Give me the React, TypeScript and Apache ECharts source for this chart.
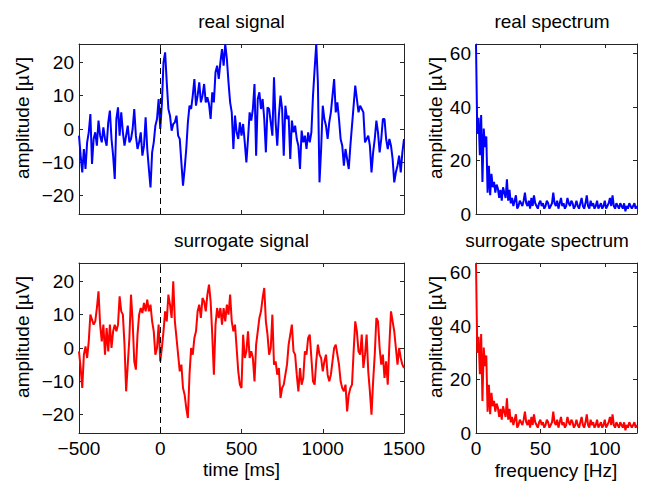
import React, { useEffect, useRef } from "react";
import * as echarts from "echarts";

// ---- data ----
const timeStartMs = -500;
const timeStepMs = 10;
const realSignal = [
  -2, -8, -13, -6, -12, -4, -1, 4.5, -10.5, -3,
  -1, -5, 2.5, -2, -4, 0.5, -3, -5, 2, 5.5,
  -3, -8, -15, 3, 6.5, -2, 5, -1, -5, -2,
  1, -4, -3, 0, 6, -2, -6, -4, -1, -8,
  -5, 3.5, -6, -12, -17.5, -7, -4, 1, 3, 9,
  0, 7.5, 20, 23, 14, 6, 4, -0.5, 1.5, 2,
  4, -2, -3, -10, -17, -12, -6, 2, 7, 6,
  10, 15, 7, 10, 14, 8, 10, 13.5, 8, 9.5,
  7.5, 3, 11, 8, 17, 19, 15, 20, 24, 19,
  25.5, 21, 14, 8, 5, -6, 4, -1, -3, 2,
  -2, 1.5, -4, -10, -3, 5, 2.5, 6, 13.5, -8,
  9, 11, 6, 9, 3, -7, 6.5, 6, 2, -2,
  15.5, 2, -5, 4, 10, 6, -8, 7, 3, 4,
  -9, 2.5, -1, 1, -3, -5, -12, -0.5, -4, -2,
  -6, -1, -4, -1, 10, 18, 25.5, 14, -16, -6,
  7, 3, 1, -3, 2, 5, 10, 15, 5, 8,
  3, -3, -5, -11, -6, -9, -12, -5, 1, 7,
  13, 9, 5, 7, 6, 5, -4, -3, -2, -5,
  -13, -7, -3, 2.5, -1, -7, -3, 3, 3, -3,
  -6, -3, -5, -9, -16, -13, -11, -8, -13, -7,
  -3,
];
const surrogateSignal = [
  -1, -6, -12, -2, 0.5, -3, 2, 10, 8.5, 7,
  8, 12, 17, 7, 2, 7, -2, 6, -1, 7,
  0, 5, 7, 5, 7, 15.5, 11, 10, 1, -13,
  -5, 3, 16, 8, -4, -6.5, 4, 10, 12, 10.5,
  13.5, 11, 14.5, 11, 13, 8, 5, -2, 0, 7,
  -4, 0, 5, 11, 8, 16, 13, 9, 20, 8,
  3, -2, -7, -5, -12, -14, -18, -21, -8, 0,
  -2, 3, 5, 11, 13, 9, 15, 14, 11, 16,
  19, 14, 4, -8, 7, 12, 9, 12, 7, 12,
  8, 13, 10, 16, 8, 5, 7, 0, -7, -11,
  -12, 4, -3, -1, 5, -3, -1, -3, -10, 1,
  5, 9, 11, 15, 18, 8, 4, -2, 0, 10,
  -5, -4, -8, -6, -15, -12, -11, -8, -5, 1,
  4, 7, -1, -2, -8, -13, -6, -11, -9, -1,
  -2, 3, 4, -3, -10, -11, -4, 1, -2, -3,
  -7, -4, -2, -8, -10, -8, -4, 0, 1, -2,
  -5, -10, -12, -13, -11, -19, -14, -12, -11, -1,
  8, 5, -1, -2, 4, -6, -2, 4, -7, -13,
  -20, -10, -2, 9, 8, 0, -5, -2, -9, -4,
  -11, 1, 11, 8, 5, 0, -5, 0, -3, -5,
  -6,
];
const freqStepHz = 1;
const realSpectrum = [
  63.5, 30, 36, 22, 37, 12, 32, 25, 29, 8,
  18, 7, 15, 10, 12, 8, 11, 9.5, 6, 9,
  5, 10, 8, 6, 13, 5, 9, 4, 6, 3,
  5, 7, 2, 3, 5, 4, 3, 5, 8, 4,
  3, 5, 2, 6, 3, 7, 4, 3, 2, 4,
  5, 3, 4, 2, 3, 5, 4, 2, 3, 4,
  8, 4, 3, 5, 2, 4, 6, 3, 4, 2,
  3, 6, 4, 3, 5, 4, 2, 3, 5, 3,
  2, 4, 6, 3, 2, 4, 7, 3, 2, 5,
  3, 4, 2, 3, 5, 2, 3, 4, 2, 3,
  5, 2, 3, 4, 6, 3, 7, 3, 2, 4,
  3, 2, 4, 3, 2, 4, 1, 3, 2, 4,
  3, 2, 3, 4, 2, 3,
];
// a phase-randomised surrogate keeps the amplitude spectrum
const surrogateSpectrum = realSpectrum;

const timeTicks = [-500, 0, 500, 1000, 1500];
const signalTicks = [-20, -10, 0, 10, 20];
const freqTicks = [0, 50, 100];
const spectrumTicks = [0, 20, 40, 60];

const titles = ["real signal", "real spectrum", "surrogate signal", "surrogate spectrum"];
const yName = "amplitude [\u00b5V]";
const timeName = "time [ms]";
const freqName = "frequency [Hz]";

// ---- styles ----
const FONT = "'Liberation Sans', Arial, Helvetica, sans-serif";
const FS = 19;
const AXIS_COLOR = "#262626";

const grids = [
  { left: 79, top: 44, width: 325, height: 170 },
  { left: 476, top: 44, width: 161, height: 170 },
  { left: 79, top: 263, width: 325, height: 170 },
  { left: 476, top: 263, width: 161, height: 170 },
];

const fmt = (v: number) => (v < 0 ? "\u2212" + Math.abs(v) : String(v));

function axis(kind: "x" | "y", gridIndex: number, position: string, min: number, max: number, ticks: number[], labels: boolean) {
  return {
    type: "value",
    gridIndex,
    position,
    min,
    max,
    axisLine: { show: true, onZero: false, lineStyle: { color: AXIS_COLOR, width: 1 } },
    axisTick: { show: true, inside: true, length: 4, customValues: ticks, lineStyle: { color: AXIS_COLOR, width: 1 } },
    axisLabel: {
      show: labels,
      customValues: ticks,
      margin: kind === "x" ? 6 : 5,
      color: "#000",
      fontSize: FS,
      fontFamily: FONT,
      formatter: fmt,
    },
    splitLine: { show: false },
  };
}

function text(t: string, x: number, y: number, rotate = false) {
  return {
    type: "text",
    x,
    y,
    rotation: rotate ? Math.PI / 2 : 0,
    style: {
      text: t,
      fontSize: FS,
      fontFamily: FONT,
      fill: "#000",
      align: "center",
      verticalAlign: "middle",
      textAlign: "center",
      textVerticalAlign: "middle",
    },
  };
}

export default function App() {
  const ref = useRef<HTMLDivElement>(null);
  useEffect(() => {
    if (!ref.current) return;
    const chart = echarts.init(ref.current, undefined, { renderer: "svg" });

    const timeData = (vals: number[]) => vals.map((v, i) => [timeStartMs + i * timeStepMs, v]);
    const freqData = (vals: number[]) => vals.map((v, i) => [i * freqStepHz, v]);

    const xAxes: any[] = [];
    const yAxes: any[] = [];
    grids.forEach((_, g) => {
      const isSignal = g % 2 === 0;
      const isBottom = g >= 2;
      const [xmin, xmax, xt] = isSignal ? [-500, 1500, timeTicks] : [0, 125, freqTicks];
      const [ymin, ymax, yt] = isSignal ? [-25.5, 25.5, signalTicks] : [0, 63.6, spectrumTicks];
      xAxes.push(axis("x", g, "bottom", xmin as number, xmax as number, xt as number[], isBottom));
      xAxes.push(axis("x", g, "top", xmin as number, xmax as number, xt as number[], false));
      yAxes.push(axis("y", g, "left", ymin as number, ymax as number, yt as number[], true));
      yAxes.push(axis("y", g, "right", ymin as number, ymax as number, yt as number[], false));
    });

    const dashed = {
      silent: true,
      symbol: ["none", "none"],
      label: { show: false },
      lineStyle: { type: [6, 4], color: "#000", width: 1 },
      data: [{ xAxis: 0 }],
    };

    const line = (g: number, data: number[][], color: string, mark: boolean) => ({
      type: "line",
      xAxisIndex: 2 * g,
      yAxisIndex: 2 * g,
      data,
      showSymbol: false,
      symbol: "none",
      lineStyle: { color, width: 2 },
      itemStyle: { color },
      clip: true,
      ...(mark ? { markLine: dashed } : {}),
    });

    chart.setOption({
      animation: false,
      backgroundColor: "#fff",
      grid: grids.map((g) => ({ ...g, show: false, containLabel: false })),
      xAxis: xAxes,
      yAxis: yAxes,
      series: [
        line(0, timeData(realSignal), "#0000ff", true),
        line(1, freqData(realSpectrum), "#0000ff", false),
        line(2, timeData(surrogateSignal), "#ff0000", true),
        line(3, freqData(surrogateSpectrum), "#ff0000", false),
      ],
      graphic: [
        text(titles[0], 241.5, 21.5),
        text(titles[1], 552, 21.5),
        text(titles[2], 241.5, 240.5),
        text(titles[3], 547, 240.5),
        text(timeName, 241.5, 469),
        text(freqName, 556, 470),
        text(yName, 22, 118, true),
        text(yName, 22, 337, true),
        text(yName, 435, 118, true),
        text(yName, 435, 337, true),
      ],
    });
    return () => chart.dispose();
  }, []);
  return <div ref={ref} style={{ position: "absolute", left: 0, top: 0, width: 645, height: 482 }} />;
}
